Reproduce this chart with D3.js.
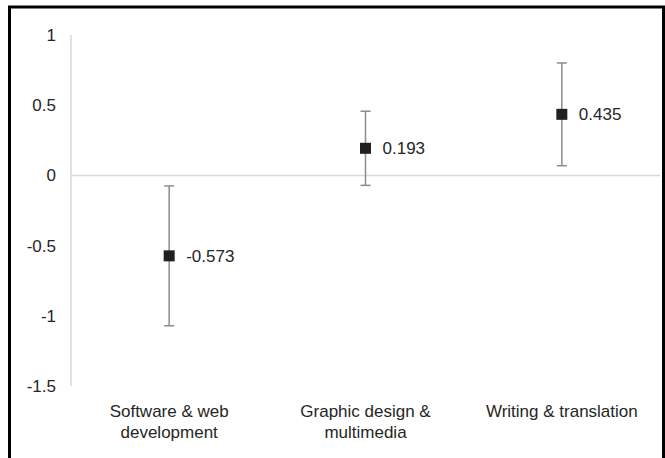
<!DOCTYPE html>
<html>
<head>
<meta charset="utf-8">
<script src="https://cdn.jsdelivr.net/npm/d3@7"></script>
<style>
  html, body { margin: 0; padding: 0; background: #fff; }
  svg { display: block; font-family: "Liberation Sans", Arial, sans-serif; }
</style>
</head>
<body>
<svg id="chart" width="665" height="458"></svg>
<script>
const categories = ["Software & web development", "Graphic design & multimedia", "Writing & translation"];
const categoryLines = [["Software & web", "development"], ["Graphic design &", "multimedia"], ["Writing & translation"]];
const values = [-0.573, 0.193, 0.435];
const errors = [0.498, 0.264, 0.366];
const valueLabels = ["-0.573", "0.193", "0.435"];
const yTicks = [-1.5, -1, -0.5, 0, 0.5, 1];
const yTickLabels = ["-1.5", "-1", "-0.5", "0", "0.5", "1"];

const svg = d3.select("#chart");
const W = 665, H = 458;

// outer border (top, left, right)
svg.append("path")
  .attr("d", `M9.5,${H} L9.5,7 L663.5,7 L663.5,${H}`)
  .attr("fill", "none").attr("stroke", "#000").attr("stroke-width", 3);

const x = d3.scaleBand().domain(categories).range([71, 660]);
const y = d3.scaleLinear().domain([-1.5, 1]).range([386, 35]);

// vertical axis line
svg.append("line")
  .attr("x1", 71).attr("x2", 71)
  .attr("y1", y(1)).attr("y2", y(-1.5))
  .attr("stroke", "#d9d9d9").attr("stroke-width", 1.5);

// zero line
svg.append("line")
  .attr("x1", 71).attr("x2", 660)
  .attr("y1", y(0)).attr("y2", y(0))
  .attr("stroke", "#d9d9d9").attr("stroke-width", 1.5);

// y tick labels
svg.append("g").selectAll("text")
  .data(yTicks)
  .join("text")
  .attr("x", 56)
  .attr("y", d => y(d))
  .attr("dy", "0.35em")
  .attr("text-anchor", "end")
  .attr("font-size", 17)
  .attr("fill", "#262626")
  .text((d, i) => yTickLabels[i]);

const data = categories.map((c, i) => ({ c, v: values[i], e: errors[i], lab: valueLabels[i], lines: categoryLines[i] }));
const cx = d => x(d.c) + x.bandwidth() / 2;

// error bars
const eb = svg.append("g").selectAll("g").data(data).join("g");
eb.append("line")
  .attr("x1", cx).attr("x2", cx)
  .attr("y1", d => y(d.v + d.e)).attr("y2", d => y(d.v - d.e))
  .attr("stroke", "#8c8c8c").attr("stroke-width", 1.5);
eb.append("line")
  .attr("x1", d => cx(d) - 5).attr("x2", d => cx(d) + 5)
  .attr("y1", d => y(d.v + d.e)).attr("y2", d => y(d.v + d.e))
  .attr("stroke", "#8c8c8c").attr("stroke-width", 1.5);
eb.append("line")
  .attr("x1", d => cx(d) - 5).attr("x2", d => cx(d) + 5)
  .attr("y1", d => y(d.v - d.e)).attr("y2", d => y(d.v - d.e))
  .attr("stroke", "#8c8c8c").attr("stroke-width", 1.5);

// markers
svg.append("g").selectAll("rect").data(data).join("rect")
  .attr("x", d => cx(d) - 5.5)
  .attr("y", d => y(d.v) - 5.5)
  .attr("width", 11).attr("height", 11)
  .attr("fill", "#231f20");

// value labels
svg.append("g").selectAll("text").data(data).join("text")
  .attr("x", d => cx(d) + 17)
  .attr("y", d => y(d.v))
  .attr("dy", "0.35em")
  .attr("font-size", 17)
  .attr("fill", "#262626")
  .text(d => d.lab);

// category labels
const cl = svg.append("g").selectAll("text").data(data).join("text")
  .attr("text-anchor", "middle")
  .attr("font-size", 17)
  .attr("fill", "#262626");
cl.each(function(d) {
  const t = d3.select(this);
  d.lines.forEach((ln, k) => {
    t.append("tspan")
      .attr("x", cx(d))
      .attr("y", 411 + k * 21)
      .attr("dy", "0.35em")
      .text(ln);
  });
});
</script>
</body>
</html>
